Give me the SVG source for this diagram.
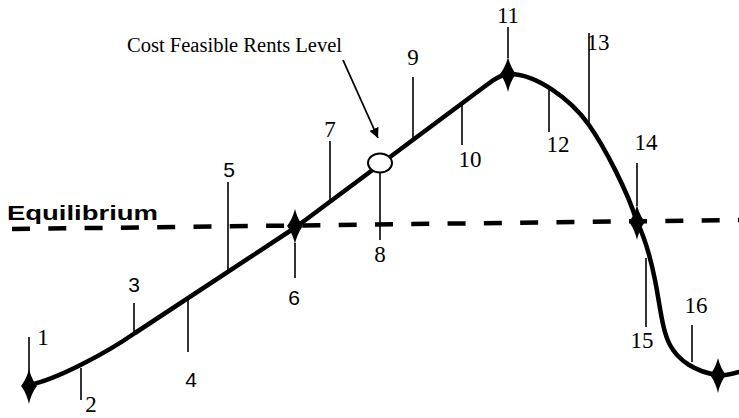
<svg xmlns="http://www.w3.org/2000/svg" width="739" height="418" viewBox="0 0 739 418">
<style>
.curve{fill:none;stroke:#000;stroke-width:4.5;stroke-linejoin:round;stroke-linecap:round}
.tick{stroke:#000;stroke-width:1.6;fill:none}
.dash{stroke:#000;stroke-width:4.5;stroke-dasharray:18 18.3;fill:none}
.ser{font-family:"Liberation Serif","Times New Roman",serif;font-size:23px;fill:#000;text-anchor:middle}
.san{font-family:"Liberation Sans",Arial,sans-serif;font-size:21px;fill:#000;text-anchor:middle}
.dia{fill:#000}
</style>
<defs>
<path id="star" d="M0,-17 C2,-9 5,-4 8,0 C5,4 2,9 0,18 C-2,9 -5,4 -8,0 C-5,-4 -2,-9 0,-17Z"/>
<marker id="ah" viewBox="0 0 10 10" refX="10" refY="5" markerWidth="10" markerHeight="10" markerUnits="userSpaceOnUse" orient="auto">
<path d="M0,0 L10,5 L0,10Z" fill="#000"/>
</marker>
</defs>
<rect width="739" height="418" fill="#fff"/>
<g id="equilibrium">
<line class="dash" x1="12" y1="229" x2="739" y2="220"/>
<text x="7" y="220" font-family="'Liberation Sans',Arial,sans-serif" font-weight="bold" font-size="21" textLength="151" lengthAdjust="spacingAndGlyphs">Equilibrium</text>
</g>
<g id="connectors">
<path class="curve" d="M29,385 C55,380 105,354 135,333 L296,227 L488,84 C497,77 503,74 510,74 C535,74 570,98 589,125 C605,148 627,190 637,222 C645,238 650,255 655,280 S662,330 670,345 C678,360 695,372 718,375 C727,376 733,374 739,372"/>
<line x1="343" y1="60" x2="378" y2="138" stroke="#000" stroke-width="1.8" marker-end="url(#ah)"/>
</g>
<g id="cost-label">
<text x="127" y="52" font-family="'Liberation Serif','Times New Roman',serif" font-size="20.5" textLength="215" lengthAdjust="spacingAndGlyphs">Cost Feasible Rents Level</text>
</g>
<g id="n1"><line class="tick" x1="29" y1="337" x2="29" y2="372"/><use href="#star" x="29" y="386" class="dia"/><text class="ser" x="43" y="345">1</text></g>
<g id="n2"><line class="tick" x1="81" y1="368" x2="81" y2="400"/><text class="ser" x="91" y="412">2</text></g>
<g id="n3"><line class="tick" x1="134" y1="303" x2="134" y2="334"/><text class="san" x="134" y="292">3</text></g>
<g id="n4"><line class="tick" x1="188" y1="299" x2="188" y2="352"/><text class="san" x="191" y="387">4</text></g>
<g id="n5"><line class="tick" x1="228" y1="182" x2="228" y2="271"/><text class="san" x="229" y="177">5</text></g>
<g id="n6"><line class="tick" x1="295" y1="243" x2="295" y2="278"/><use href="#star" x="295" y="226" class="dia"/><text class="san" x="294" y="305">6</text></g>
<g id="n7"><line class="tick" x1="330" y1="141" x2="330" y2="201"/><text class="ser" x="330" y="137">7</text></g>
<g id="n8"><line class="tick" x1="380" y1="172" x2="380" y2="240"/><ellipse cx="380" cy="163" rx="12" ry="9.5" fill="#fff" stroke="#000" stroke-width="2"/><text class="ser" x="380" y="262">8</text></g>
<g id="n9"><line class="tick" x1="413" y1="77" x2="413" y2="139"/><text class="ser" x="413" y="65">9</text></g>
<g id="n10"><line class="tick" x1="462" y1="103" x2="462" y2="145"/><text class="ser" x="470" y="167">10</text></g>
<g id="n11"><line class="tick" x1="508" y1="27" x2="508" y2="58"/><use href="#star" x="508" y="74" class="dia"/><text class="ser" x="508" y="23">11</text></g>
<g id="n12"><line class="tick" x1="549" y1="88" x2="549" y2="132"/><text class="ser" x="558" y="152">12</text></g>
<g id="n13"><line class="tick" x1="589" y1="33" x2="589" y2="125"/><text class="ser" x="598" y="50">13</text></g>
<g id="n14"><line class="tick" x1="637" y1="163" x2="637" y2="206"/><use href="#star" x="637" y="222" class="dia"/><text class="ser" x="646" y="150">14</text></g>
<g id="n15"><line class="tick" x1="646" y1="258" x2="646" y2="327"/><text class="ser" x="642" y="348">15</text></g>
<g id="n16"><line class="tick" x1="692" y1="325" x2="692" y2="362"/><use href="#star" x="718" y="375" class="dia"/><text class="ser" x="696" y="313">16</text></g>
</svg>
